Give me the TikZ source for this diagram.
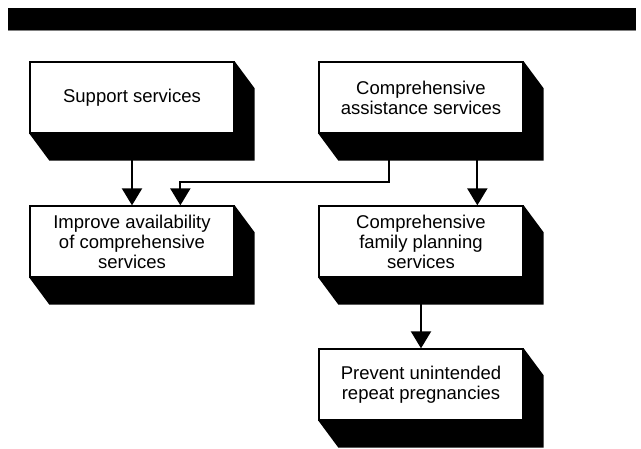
\documentclass[tikz,border=0pt]{standalone}
\usepackage{fontspec}
\setmainfont{Liberation Sans}
\usetikzlibrary{arrows.meta,calc,backgrounds}
\tikzset{
  fbox/.style={draw, line width=1.3pt, fill=white, minimum width=204pt, minimum height=71pt,
    inner sep=0pt, align=center, font=\fontsize{18.5}{20}\selectfont},
  flow/.style={line width=2pt, -{Triangle[width=20pt,length=17pt]}},
  shade3d/.style={fill=black}
}
\newcommand\boxdepth[1]{%
  \fill[shade3d] (#1.north east) -- ($(#1.north east)+(20,27)$) -- ($(#1.south east)+(20,27)$)
    -- ($(#1.south west)+(20,27)$) -- (#1.south west) -- (#1.south east) -- cycle;}
\begin{document}
\begin{tikzpicture}[x=1pt,y=-1pt]
\useasboundingbox (0,0) rectangle (641,449);
\fill[black] (8,8) rectangle (636,30);
\draw[gray, line width=1pt] (8,30.5) -- (636,30.5);
\node[fbox] (b1) at (132,97.5) {Support services};
\node[fbox] (b2) at (421,97.5) {Comprehensive\\assistance services};
\node[fbox] (b3) at (132,241.5) {Improve availability\\of comprehensive\\services};
\node[fbox] (b4) at (421,241.5) {Comprehensive\\family planning\\services};
\node[fbox] (b5) at (421,384.5) {Prevent unintended\\repeat pregnancies};
\begin{scope}[on background layer]
\boxdepth{b1}
\boxdepth{b2}
\boxdepth{b3}
\boxdepth{b4}
\boxdepth{b5}
\end{scope}
\draw[flow] (b1.south) -- (b3.north);
\coordinate (s2) at ($(b2.south west)+(71,0)$);
\coordinate (t3) at ($(b3.north west)+(151,0)$);
\draw[flow] (s2) -- (s2 |- 0,182) -- (t3 |- 0,182) -- (t3);
\draw[flow] ($(b2.south west)+(159,0)$) -- ($(b4.north west)+(159,0)$);
\draw[flow] (b4.south) -- (b5.north);
\end{tikzpicture}
\end{document}
